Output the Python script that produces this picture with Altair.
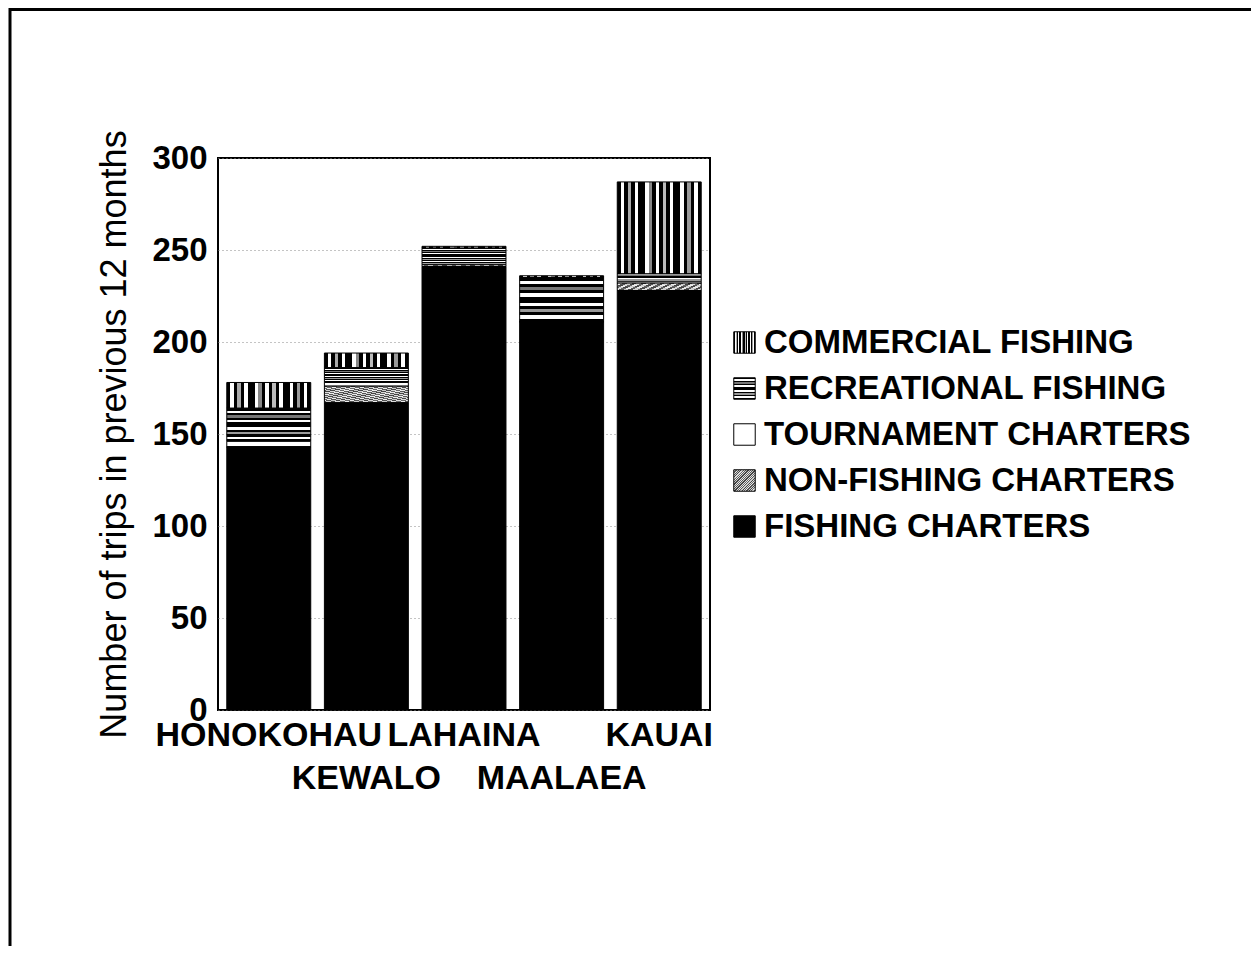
import altair as alt
import pandas as pd

ports = ["HONOKOHAU", "KEWALO", "LAHAINA", "MAALAEA", "KAUAI"]
fishing_charters = [143, 167, 241, 211, 228]
non_fishing_charters = [0, 9, 1, 0, 4]
tournament_charters = [3, 2, 1, 0, 1]
recreational_fishing = [18, 8, 8, 24, 4]
commercial_fishing = [14, 8, 1, 1, 50]

categories = ["COMMERCIAL FISHING", "RECREATIONAL FISHING", "TOURNAMENT CHARTERS",
              "NON-FISHING CHARTERS", "FISHING CHARTERS"]
series = [commercial_fishing, recreational_fishing, tournament_charters,
          non_fishing_charters, fishing_charters]

rows = []
for ci, (cat, vals) in enumerate(zip(categories, series)):
    for p, v in zip(ports, vals):
        rows.append({"port": p, "type": cat, "trips": v, "ord": len(categories) - ci})
df = pd.DataFrame(rows)


def stripes(colors, direction):
    n = len(colors)
    stops = []
    for i, c in enumerate(colors):
        stops.append("{offset:%.4f,color:'%s'}" % (i / n, c))
        stops.append("{offset:%.4f,color:'%s'}" % ((i + 1) / n, c))
    x2, y2 = {"v": (1, 0), "h": (0, 1), "d": (1, 1)}[direction]
    return "{gradient:'linear',x1:0,y1:0,x2:%d,y2:%d,stops:[%s]}" % (x2, y2, ",".join(stops))


commercial_fill = stripes(["black", "white", "black", "#aaa", "black", "white", "black", "black",
                           "white", "#888", "black", "white", "black", "#bbb", "black", "white",
                           "black", "black", "white", "black", "#999", "black", "white", "black"], "v")
recreational_fill = stripes(["black", "white", "black", "#777", "black", "white", "black", "black",
                             "white", "black", "#999", "black", "white", "black"], "h")
nonfishing_fill = stripes(["#444", "#ddd", "#666", "#eee", "#555", "#ccc"] * 6, "d")

color_range = [
    {"expr": commercial_fill},
    {"expr": recreational_fill},
    "white",
    {"expr": nonfishing_fill},
    "black",
]

FONT = "Liberation Sans"

bars = alt.Chart(df).mark_bar(stroke="black", strokeWidth=1).encode(
    x=alt.X("port:N", sort=ports, title=None,
            scale=alt.Scale(paddingInner=0.14, paddingOuter=0.09),
            axis=alt.Axis(labelAngle=0, ticks=False, domain=False, labelPadding=8,
                          labelFont=FONT, labelFontSize=34, labelFontWeight="bold",
                          labelColor="black", labelOverlap=False, labelBound=False,
                          labelFlush=False, labelBaseline="top", labelLineHeight=43,
                          labelLimit=0,
                          labelExpr="(datum.value=='KEWALO'||datum.value=='MAALAEA') ? ['', datum.value] : datum.value",
                          grid=False)),
    y=alt.Y("sum(trips):Q", title="Number of trips in previous 12 months",
            scale=alt.Scale(domain=[0, 300], nice=False),
            axis=alt.Axis(values=[0, 50, 100, 150, 200, 250, 300], ticks=False, domain=False,
                          labelPadding=11, labelFont=FONT, labelFontSize=33,
                          labelFontWeight="bold", labelColor="black",
                          titleFont=FONT, titleFontSize=36, titleFontWeight="normal",
                          titleColor="black", titlePadding=18,
                          grid=True, gridColor="#888", gridDash=[1, 3], gridWidth=1)),
    color=alt.Color("type:N", sort=categories,
                    scale=alt.Scale(domain=categories, range=color_range),
                    legend=alt.Legend(title=None, orient="none", legendX=510, legendY=168,
                                      symbolType="square", symbolSize=460,
                                      symbolStrokeColor="black", symbolStrokeWidth=1,
                                      symbolOpacity=1, labelFont=FONT, labelFontSize=33,
                                      labelFontWeight="bold", labelColor="black",
                                      labelLimit=0, labelOffset=3, rowPadding=12,
                                      padding=0)),
    order=alt.Order("ord:Q", sort="ascending"),
)

frame_df = pd.DataFrame({"k": [0]})
top_rule = alt.Chart(frame_df).mark_rule(color="black", strokeWidth=3).encode(
    x=alt.value(-208), x2=alt.value(1045), y=alt.value(-148.5))
left_rule = alt.Chart(frame_df).mark_rule(color="black", strokeWidth=3).encode(
    x=alt.value(-208), y=alt.value(-150), y2=alt.value(800))

chart = alt.layer(bars, top_rule, left_rule).properties(
    width=492, height=552,
    autosize=alt.AutoSizeParams(type="none"),
    padding={"left": 210, "top": 150, "right": 541, "bottom": 236},
    background="white",
).configure_view(stroke="black", strokeWidth=2)

chart.save("out.html", embed_options={"renderer": "svg", "actions": False})
